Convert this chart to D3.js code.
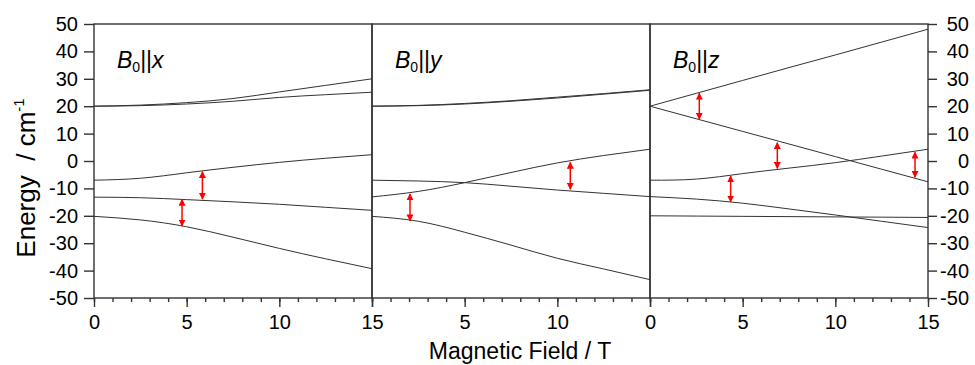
<!DOCTYPE html>
<html>
<head>
<meta charset="utf-8">
<script src="https://cdn.jsdelivr.net/npm/d3@7"></script>
<style>
  body { margin: 0; background: #fff; }
  text { font-family: "Liberation Sans", Arial, sans-serif; fill: #000; }
</style>
</head>
<body>
<div id="chart"></div>
<script>
var svgWidth = 975;
var svgHeight = 365;

var margin = {
    top: 24,
    left: 94
};

var panelWidth = 278;
var height = 274;

var fieldPts = [0, 2.5, 5, 7.5, 10, 12.5, 15];

// energy levels, B0 || x
var levelsX = [
    [20, 20.4, 21.3, 22.8, 25.2, 27.6, 30],
    [20, 20.2, 20.8, 21.8, 23.2, 24.2, 25.1],
    [-7, -6.3, -4.3, -2.3, -0.5, 1.0, 2.3],
    [-13.2, -13.4, -14.1, -14.9, -15.8, -16.9, -18.0],
    [-20.2, -21.5, -24, -27.8, -31.9, -35.7, -39.3]
];

// energy levels, B0 || y
var levelsY = [
    [20, 20.3, 21.0, 22.0, 23.3, 24.6, 26.0],
    [20, 20.2, 20.8, 21.8, 23.0, 24.4, 25.8],
    [-13.1, -11.1, -7.9, -4.2, -0.7, 2.0, 4.3],
    [-7.0, -7.3, -7.9, -9.2, -10.6, -11.8, -13.0],
    [-20.2, -22.0, -26.0, -30.7, -35.5, -39.4, -43.3]
];

// energy levels, B0 || z
var levelsZ = [
    [20, 24.7, 29.4, 34.1, 38.7, 43.4, 48.1],
    [20, 15.4, 10.8, 6.2, 1.6, -3.0, -7.6],
    [-7.0, -6.6, -4.6, -2.6, -0.6, 1.8, 4.3],
    [-13, -13.9, -15.4, -17.5, -19.7, -22.0, -24.3],
    [-20, -20.1, -20.2, -20.3, -20.4, -20.5, -20.6]
];

// transitions: [field, upper energy, lower energy]
var arrowsX = [[4.75, -14.0, -23.7], [5.85, -3.9, -13.9]];
var arrowsY = [[2.05, -12.0, -21.8], [10.7, -0.5, -10.3]];
var arrowsZ = [[2.66, 24.7, 15.3], [6.87, 6.7, -2.7], [14.3, 3.2, -5.9], [4.35, -5.5, -14.9]];

var panelAxes = ["x", "y", "z"];
var panelLevels = [levelsX, levelsY, levelsZ];
var panelArrows = [arrowsX, arrowsY, arrowsZ];
// which bottom tick labels each panel shows
var panelTickLabels = [[0, 5, 10, 15], [5, 10], [0, 5, 10, 15]];

var yTicks = [-50, -40, -30, -20, -10, 0, 10, 20, 30, 40, 50];
var xMajor = [0, 5, 10, 15];
var xMinor = d3.range(0, 16);

var svg = d3.select("#chart")
    .append("svg")
    .attr("width", svgWidth)
    .attr("height", svgHeight);

var defs = svg.append("defs");
defs.append("marker")
    .attr("id", "head")
    .attr("viewBox", "0 0 10 10")
    .attr("refX", 9)
    .attr("refY", 5)
    .attr("markerWidth", 7)
    .attr("markerHeight", 7)
    .attr("markerUnits", "userSpaceOnUse")
    .attr("orient", "auto-start-reverse")
    .append("path")
    .attr("d", "M0,0 L10,5 L0,10 Z")
    .attr("fill", "#ff0000");

var chartGroup = svg.append("g")
    .attr("transform", `translate(${margin.left}, ${margin.top})`);

var yScale = d3.scaleLinear()
    .domain([-50, 50])
    .range([height, 0]);

var xScale = d3.scaleLinear()
    .domain([0, 15])
    .range([0, panelWidth]);

var line = d3.line()
    .x((d, i) => xScale(fieldPts[i]))
    .y(d => yScale(d))
    .curve(d3.curveNatural);

panelAxes.forEach(function(ax, p) {
    var g = chartGroup.append("g")
        .attr("transform", `translate(${p * panelWidth}, 0)`);

    // levels
    g.selectAll(".level")
        .data(panelLevels[p])
        .enter()
        .append("path")
        .attr("class", "level")
        .attr("d", line)
        .attr("fill", "none")
        .attr("stroke", "#333")
        .attr("stroke-width", 1);

    // transition arrows
    g.selectAll(".arrow")
        .data(panelArrows[p])
        .enter()
        .append("line")
        .attr("class", "arrow")
        .attr("x1", d => xScale(d[0]))
        .attr("x2", d => xScale(d[0]))
        .attr("y1", d => yScale(d[1]))
        .attr("y2", d => yScale(d[2]))
        .attr("stroke", "#ff0000")
        .attr("stroke-width", 1.5)
        .attr("marker-start", "url(#head)")
        .attr("marker-end", "url(#head)");

    // minor ticks
    g.append("g")
        .attr("transform", `translate(0, ${height})`)
        .call(d3.axisBottom(xScale).tickValues(xMinor).tickSize(4).tickSizeOuter(0).tickFormat(""))
        .call(a => a.select(".domain").remove());

    // major ticks + labels
    var labels = panelTickLabels[p];
    g.append("g")
        .attr("class", "xaxis")
        .attr("transform", `translate(0, ${height})`)
        .call(d3.axisBottom(xScale).tickValues(xMajor).tickSize(9).tickSizeOuter(0).tickPadding(8)
            .tickFormat(d => labels.indexOf(d) >= 0 ? String(d) : ""))
        .call(a => a.select(".domain").remove());

    // frame
    g.append("rect")
        .attr("width", panelWidth)
        .attr("height", height)
        .attr("fill", "none")
        .attr("stroke", "#333")
        .attr("stroke-width", 1.4);

    // panel label
    var lab = g.append("text")
        .attr("x", 23)
        .attr("y", 44)
        .style("font-size", "23px");
    lab.append("tspan").style("font-style", "italic").text("B");
    lab.append("tspan").attr("dy", 4).style("font-size", "14px").text("0");
    lab.append("tspan").attr("dy", -4).text("||");
    lab.append("tspan").style("font-style", "italic").text(ax);
});

// left and right energy axes
chartGroup.append("g")
    .attr("class", "yaxis")
    .call(d3.axisLeft(yScale).tickValues(yTicks).tickSize(10).tickSizeOuter(0).tickPadding(6)
        .tickFormat(d => String(d)))
    .call(a => a.select(".domain").remove());

var rightAxis = chartGroup.append("g")
    .attr("class", "yaxis")
    .attr("transform", `translate(${3 * panelWidth}, 0)`)
    .call(d3.axisRight(yScale).tickValues(yTicks).tickSize(9).tickSizeOuter(0).tickPadding(32)
        .tickFormat(d => String(d)))
    .call(a => a.select(".domain").remove());
rightAxis.selectAll("text").attr("text-anchor", "end");

chartGroup.selectAll(".tick line").attr("stroke", "#333").attr("stroke-width", 1.4);
chartGroup.selectAll(".tick text")
    .style("font-size", "20px")
    .style("font-family", "'Liberation Sans', Arial, sans-serif")
    .attr("fill", "#000");

// axis titles
svg.append("text")
    .attr("x", 520)
    .attr("y", 359)
    .attr("text-anchor", "middle")
    .style("font-size", "23px")
    .text("Magnetic Field / T");

var yTitle = svg.append("text")
    .attr("transform", "translate(35, 178) rotate(-90)")
    .attr("text-anchor", "middle")
    .style("font-size", "26px")
    .attr("xml:space", "preserve");
yTitle.append("tspan").text("Energy  / cm");
yTitle.append("tspan").attr("dy", -11).style("font-size", "15px").text("-1");
</script>
</body>
</html>
